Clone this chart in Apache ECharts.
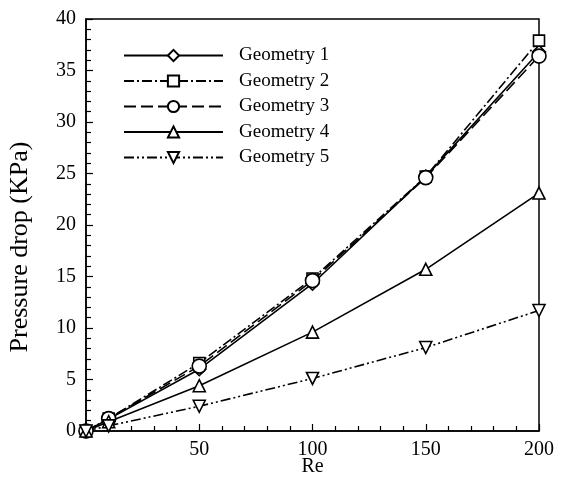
<!DOCTYPE html>
<html><head><meta charset="utf-8">
<script src="https://cdn.jsdelivr.net/npm/echarts@6/dist/echarts.min.js"></script>
<style>html,body{margin:0;padding:0;background:#fff}#c{width:566px;height:479px}</style>
</head><body><div id="c"></div>
<script>
const re = [0, 10, 50, 100, 150, 200];
const geometry1 = [0, 1.15, 6.0, 14.3, 24.7, 36.8];
const geometry2 = [0, 1.2, 6.6, 14.8, 24.7, 37.9];
const geometry3 = [0, 1.2, 6.3, 14.6, 24.6, 36.4];
const geometry4 = [0, 0.9, 4.4, 9.6, 15.7, 23.1];
const geometry5 = [0, 0.5, 2.4, 5.1, 8.1, 11.7];
const xTicks = [50, 100, 150, 200];
const names = ['Geometry 1','Geometry 2','Geometry 3','Geometry 4','Geometry 5'];

const font = 'Liberation Serif';
function mk(name, vals, symbol, size, dash) {
  return {
    name, type: 'line', data: re.map((x, i) => [x, vals[i]]),
    symbol, symbolSize: size, showAllSymbol: true,
    lineStyle: { color: '#000', width: 1.6, type: dash },
    itemStyle: { color: '#fff', borderColor: '#000', borderWidth: 1.6 },
    emphasis: { disabled: true }, animation: false
  };
}
const downTri = 'path://M0,0 L10,0 L5,9 Z';
const chart = echarts.init(document.getElementById('c'));
chart.setOption({
  backgroundColor: '#fff',
  animation: false,
  grid: { left: 86, right: 27, top: 19, bottom: 48, show: true, borderColor: '#000', borderWidth: 1.5,
    backgroundColor: 'transparent', outerBoundsMode: 'none', containLabel: false },
  legend: {
    orient: 'vertical', left: 123, top: 46, padding: 0, itemWidth: 99, itemHeight: 14, itemGap: 6.5,
    textStyle: { fontFamily: font, fontSize: 19, color: '#000', lineHeight: 14, padding: [0,0,0,11] },
    data: names
  },
  xAxis: {
    type: 'value', min: 0, max: 200, interval: 50,
    name: 'Re', nameLocation: 'middle', nameGap: 26, nameMoveOverlap: false,
    nameTextStyle: { fontFamily: font, fontSize: 20, color: '#000' },
    axisLine: { lineStyle: { color: '#000', width: 1.5 } },
    axisTick: { inside: true, length: 7, lineStyle: { color: '#000', width: 1.2 } },
    minorTick: { show: true, splitNumber: 5, length: 5, lineStyle: { color: '#000', width: 1.2 } },
    axisLabel: { fontFamily: font, fontSize: 20, color: '#000', margin: 9,
      formatter: v => xTicks.includes(v) ? String(v) : '' },
    splitLine: { show: false }
  },
  yAxis: {
    type: 'value', min: 0, max: 40, interval: 5,
    name: 'Pressure drop (KPa)', nameLocation: 'middle', nameGap: 53,
    nameTextStyle: { fontFamily: font, fontSize: 26, color: '#000', padding: [0, 44, 0, 0] },
    axisLine: { lineStyle: { color: '#000', width: 1.5 } },
    axisTick: { inside: true, length: 7, lineStyle: { color: '#000', width: 1.2 } },
    minorTick: { show: true, splitNumber: 5, length: 5, lineStyle: { color: '#000', width: 1.2 } },
    axisLabel: { fontFamily: font, fontSize: 20, color: '#000', margin: 10 },
    splitLine: { show: false }
  },
  series: [
    mk(names[0], geometry1, 'diamond', 13, 'solid'),
    mk(names[1], geometry2, 'rect', 11, [10, 3, 2, 3]),
    mk(names[2], geometry3, 'circle', 14, [12, 5]),
    mk(names[3], geometry4, 'triangle', 12, 'solid'),
    mk(names[4], geometry5, downTri, 12, [10, 3, 2, 3, 2, 3])
  ]
});
</script></body></html>
